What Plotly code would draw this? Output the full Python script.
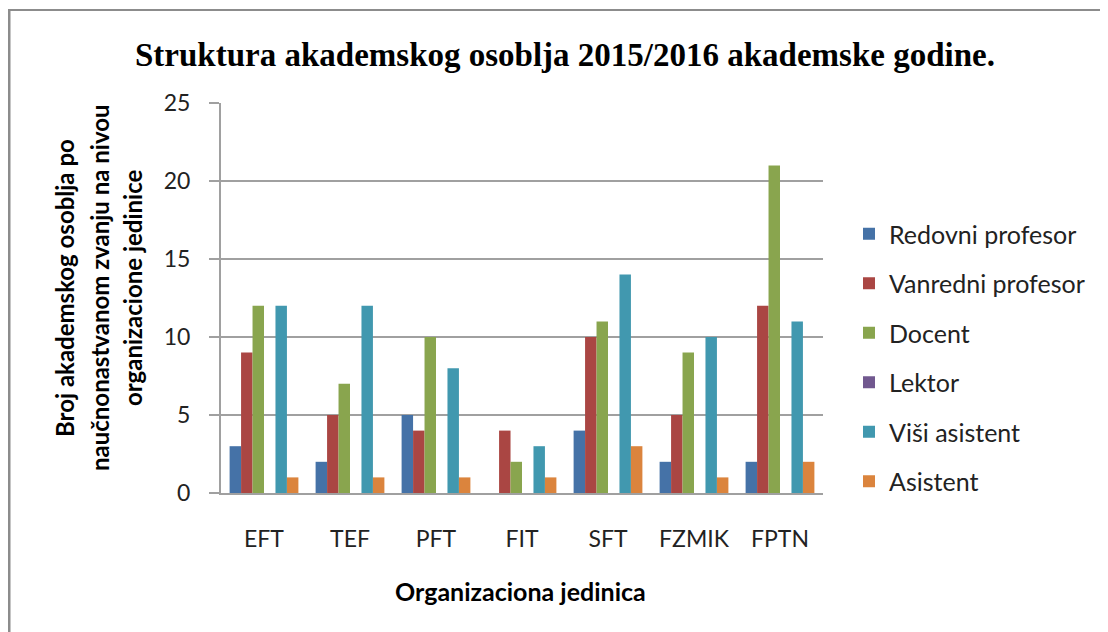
import plotly.graph_objects as go

categories = ["EFT", "TEF", "PFT", "FIT", "SFT", "FZMIK", "FPTN"]
series_names = ["Redovni profesor", "Vanredni profesor", "Docent", "Lektor", "Viši asistent", "Asistent"]
redovni = [3, 2, 5, 0, 4, 2, 2]
vanredni = [9, 5, 4, 4, 10, 5, 12]
docent = [12, 7, 10, 2, 11, 9, 21]
lektor = [0, 0, 0, 0, 0, 0, 0]
visi_asistent = [12, 12, 8, 3, 14, 10, 11]
asistent = [1, 1, 1, 1, 3, 1, 2]
y_ticks = [0, 5, 10, 15, 20, 25]

colors = ["#4572A7", "#AA4643", "#89A54E", "#71588F", "#4198AF", "#DB843D"]
values = [redovni, vanredni, docent, lektor, visi_asistent, asistent]

OFF = 8  # page body margin
W, H = 1108, 632
# plot area in target screen pixels
L, T, R, B = 221, 103, 823, 493
pw, ph = R - L, B - T

def px(x):
    return (x - L) / pw

def py(y):
    return (B - y) / ph

fig = go.Figure()
for i, (name, vals) in enumerate(zip(series_names, values)):
    fig.add_trace(go.Bar(
        x=categories, y=vals, name=name,
        marker=dict(color=colors[i], line=dict(width=0)),
        legendgroup=name,
    ))

fig.update_layout(
    width=W, height=H,
    paper_bgcolor="white", plot_bgcolor="white",
    margin=dict(l=L - OFF, r=W - R + OFF, t=T - OFF, b=H - B + OFF, autoexpand=False),
    barmode="group", bargap=0.2, bargroupgap=0,
    showlegend=True,
    legend=dict(
        x=px(849), y=py(211), xanchor="left", yanchor="top",
        font=dict(family="Lato", size=25, color="#222"),
        tracegroupgap=14, itemwidth=30,
        bgcolor="rgba(0,0,0,0)",
    ),
    title=dict(
        text="<b>Struktura akademskog osoblja 2015/2016 akademske godine.</b>",
        x=(565 - OFF) / W, y=1 - (54 - OFF) / H, xanchor="center", yanchor="middle",
        font=dict(family="Liberation Serif", size=33, color="black"),
    ),
    font=dict(family="Lato", size=20, color="#222"),
)

fig.update_xaxes(
    showgrid=False, showline=True, linecolor="#a0a0a0", linewidth=2,
    ticks="", tickfont=dict(family="Lato", size=23, color="#222"),
    ticklabelstandoff=24,
)
fig.update_yaxes(
    range=[0, 25], tickvals=y_ticks, showgrid=True, gridcolor="#a0a0a0", gridwidth=2,
    showline=True, linecolor="#a0a0a0", linewidth=2,
    ticks="outside", ticklen=10, tickcolor="#a0a0a0", tickwidth=2,
    tickfont=dict(family="Lato", size=23, color="#222"),
    ticklabelstandoff=14, zeroline=False,
)

ytitle_lines = ["Broj akademskog osoblja po", "naučnonastvanom zvanju na nivou", "organizacione jedinice"]
ytitle_x = [64, 99, 132]
for line, xx in zip(ytitle_lines, ytitle_x):
    fig.add_annotation(
        text="<b>" + line + "</b>", xref="paper", yref="paper",
        x=px(xx), y=py(288), xanchor="center", yanchor="middle",
        textangle=-90, showarrow=False,
        font=dict(family="Lato", size=24, color="black"),
    )

fig.add_annotation(
    text="<b>Organizaciona jedinica</b>", xref="paper", yref="paper",
    x=px(520), y=py(591), xanchor="center", yanchor="middle",
    showarrow=False, font=dict(family="Lato", size=25, color="black"),
)

# outer frame: top and left edges only
fig.add_shape(
    type="line", xref="paper", yref="paper",
    x0=px(8), x1=px(1130), y0=py(10), y1=py(10),
    line=dict(color="#8c8c8c", width=2), layer="below",
)
fig.add_shape(
    type="line", xref="paper", yref="paper",
    x0=px(9), x1=px(9), y0=py(9), y1=py(660),
    line=dict(color="#8c8c8c", width=3), layer="below",
)

fig.write_html("out.html")
